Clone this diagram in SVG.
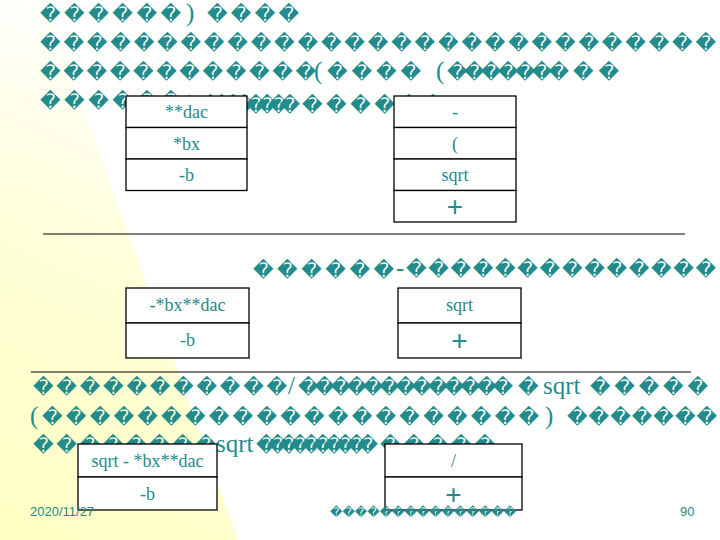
<svg xmlns="http://www.w3.org/2000/svg" width="720" height="540" viewBox="0 0 720 540">
<defs>
<linearGradient id="bg" gradientUnits="userSpaceOnUse" x1="0" y1="540" x2="210" y2="60">
<stop offset="0" stop-color="#ffffc4"/>
<stop offset="0.55" stop-color="#ffffd8"/>
<stop offset="1" stop-color="#ffffff"/>
</linearGradient>
<style>
.t{fill:#228b8b}
.box{font-family:"DejaVu Sans",sans-serif;font-size:20px}
.ser{font-family:"Liberation Serif","Times New Roman",serif;font-size:25px}
.cell{fill:#ffffff;stroke:#000000;stroke-width:1.3}
.ct{font-family:"Liberation Serif","Times New Roman",serif;font-size:18px;fill:#228b8b;text-anchor:middle}
.plus{font-family:"Liberation Sans",Arial,sans-serif;font-size:28px;fill:#228b8b;text-anchor:middle}
.hr{stroke:#000000;stroke-width:1.2}
.foot{font-family:"Liberation Sans",Arial,sans-serif;font-size:13px;fill:#228b8b}
.fbox{font-family:"DejaVu Sans",sans-serif;font-size:12px;fill:#228b8b}
</style>
</defs>
<rect x="0" y="0" width="720" height="540" fill="#ffffff"/>
<polygon points="0,0 45,0 238,540 0,540" fill="url(#bg)"/>

<g id="text-top" class="t">
<text class="box" y="21"><tspan x="40" textLength="141" lengthAdjust="spacing">������</tspan><tspan class="ser" x="186" y="21">)</tspan><tspan x="207" textLength="92" lengthAdjust="spacing">����</tspan></text>
<text class="box" y="50"><tspan x="40" textLength="676" lengthAdjust="spacing">�����������������������������</tspan></text>
<text class="box" y="79"><tspan x="40" textLength="276" lengthAdjust="spacing">������������</tspan><tspan class="ser" x="314">(</tspan><tspan x="327" textLength="94" lengthAdjust="spacing">����</tspan><tspan class="ser" x="436">(</tspan><tspan x="447" textLength="122" lengthAdjust="spacing">�������</tspan><tspan x="573" textLength="46" lengthAdjust="spacing">��</tspan></text>
<text class="box" y="108"><tspan x="40" textLength="141" lengthAdjust="spacing">������</tspan><tspan class="ser" x="183" y="112">*</tspan><tspan x="200" textLength="100" lengthAdjust="spacing">��������</tspan><tspan x="302" textLength="141" lengthAdjust="spacing">������</tspan></text>
</g>

<g id="node-stack1">
<rect class="cell" x="126" y="96" width="121" height="31.5"/>
<rect class="cell" x="126" y="127.5" width="121" height="31.5"/>
<rect class="cell" x="126" y="159" width="121" height="31.5"/>
<text class="ct" x="186.5" y="118">**dac</text>
<text class="ct" x="186.5" y="150">*bx</text>
<text class="ct" x="186.5" y="181">-b</text>
</g>

<g id="node-ops1">
<rect class="cell" x="394" y="96" width="122" height="31.5"/>
<rect class="cell" x="394" y="127.5" width="122" height="31.5"/>
<rect class="cell" x="394" y="159" width="122" height="31.5"/>
<rect class="cell" x="394" y="190.5" width="122" height="31.5"/>
<text class="ct" x="455" y="118">-</text>
<text class="ct" x="455" y="150">(</text>
<text class="ct" x="455" y="181">sqrt</text>
<text class="plus" x="455" y="216">+</text>
</g>

<line class="hr" x1="43" y1="234" x2="685" y2="234"/>

<g id="text-mid" class="t">
<text class="box" y="277"><tspan x="253" textLength="141" lengthAdjust="spacing">������</tspan><tspan class="ser" x="396" y="276">-</tspan><tspan x="406" textLength="310" lengthAdjust="spacing">��������������</tspan></text>
</g>

<g id="node-stack2">
<rect class="cell" x="126" y="288" width="123" height="35"/>
<rect class="cell" x="126" y="323" width="123" height="35"/>
<text class="ct" x="187.5" y="311">-*bx**dac</text>
<text class="ct" x="187.5" y="346">-b</text>
</g>

<g id="node-ops2">
<rect class="cell" x="398" y="288" width="123" height="35"/>
<rect class="cell" x="398" y="323" width="123" height="35"/>
<text class="ct" x="459.5" y="311">sqrt</text>
<text class="plus" x="459.5" y="350">+</text>
</g>

<line class="hr" x1="31" y1="372" x2="691" y2="372"/>

<g id="text-bottom" class="t">
<text class="box" y="394"><tspan x="33" textLength="254" lengthAdjust="spacing">�����������</tspan><tspan class="ser" x="288">/</tspan><tspan x="298" textLength="215" lengthAdjust="spacing">�������������</tspan><tspan x="518">�</tspan><tspan class="ser" x="543">sqrt</tspan><tspan x="590" textLength="118" lengthAdjust="spacing">�����</tspan></text>
<text class="box" y="424"><tspan class="ser" x="30">(</tspan><tspan x="42" textLength="497" lengthAdjust="spacing">���������������������</tspan><tspan class="ser" x="545">)</tspan><tspan x="567" textLength="150" lengthAdjust="spacing">�������</tspan></text>
<text class="box" y="452"><tspan x="33" textLength="183" lengthAdjust="spacing">��������</tspan><tspan class="ser" x="216">sqrt</tspan><tspan x="256" textLength="122" lengthAdjust="spacing">����������</tspan><tspan x="380" textLength="115" lengthAdjust="spacing">�����</tspan></text>
</g>

<g id="node-stack3">
<rect class="cell" x="78" y="444" width="139" height="33"/>
<rect class="cell" x="78" y="477" width="139" height="33"/>
<text class="ct" x="147.5" y="467">sqrt - *bx**dac</text>
<text class="ct" x="147.5" y="500">-b</text>
</g>

<g id="node-ops3">
<rect class="cell" x="385" y="444" width="137" height="33"/>
<rect class="cell" x="385" y="477" width="137" height="33"/>
<text class="ct" x="453.5" y="467">/</text>
<text class="plus" x="453.5" y="504">+</text>
</g>

<g id="footer">
<text class="foot" x="30" y="516">2020/11/27</text>
<text class="fbox" x="330" y="516" textLength="186" lengthAdjust="spacing">���������������</text>
<text class="foot" x="680" y="516">90</text>
</g>
</svg>
